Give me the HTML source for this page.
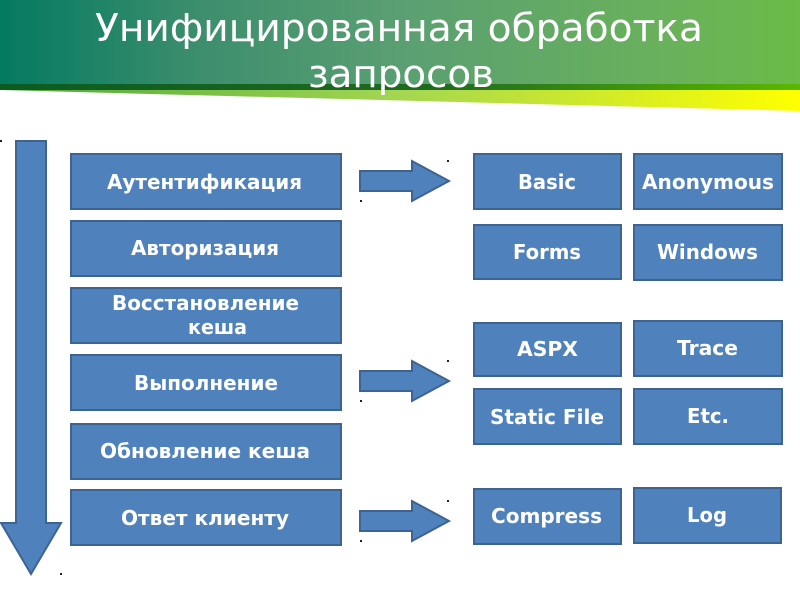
<!DOCTYPE html>
<html><head><meta charset="utf-8"><style>
html,body{margin:0;padding:0;background:#fff;width:800px;height:600px;overflow:hidden}
svg{display:block}
.t{font-family:"DejaVu Sans",sans-serif;font-size:38px;fill:#fff}
.l{font-family:"DejaVu Sans",sans-serif;font-size:20px;font-weight:bold;fill:#fff}
.b{fill:#4f81bd;stroke:#3d6491;stroke-width:2}
</style></head><body>
<svg width="800" height="600" viewBox="0 0 800 600" xmlns="http://www.w3.org/2000/svg">
<defs>
<linearGradient id="g1"><stop offset="0" stop-color="#047a60"/><stop offset="0.25" stop-color="#3d8e6d"/><stop offset="0.5" stop-color="#5a9f72"/><stop offset="0.85" stop-color="#6ab25a"/><stop offset="1" stop-color="#6abb48"/></linearGradient>
<linearGradient id="g2"><stop offset="0" stop-color="#0c5a20"/><stop offset="0.55" stop-color="#1f6b1f"/><stop offset="1" stop-color="#5ab800"/></linearGradient>
<linearGradient id="g3"><stop offset="0" stop-color="#4ea63a"/><stop offset="0.5" stop-color="#a4d651"/><stop offset="1" stop-color="#ffff00"/></linearGradient>
</defs>
<rect width="800" height="85" fill="url(#g1)"/>
<rect y="84" width="800" height="6" fill="url(#g2)"/>
<polygon points="0,90 800,90 800,111" fill="url(#g3)"/>
<text class="t" x="95" y="41" textLength="608" lengthAdjust="spacingAndGlyphs">Унифицированная обработка</text>
<text class="t" x="308" y="87" textLength="186" lengthAdjust="spacingAndGlyphs">запросов</text>

<polygon class="b" points="16,141 46,141 46,523 61,523 31,574 1,523 16,523"/>
<polygon class="b" points="360,171 412,171 412,161 449,181 412,201 412,191 360,191"/>
<polygon class="b" points="360,371 412,371 412,361 449,381 412,401 412,391 360,391"/>
<polygon class="b" points="360,511 412,511 412,501 449,521 412,541 412,531 360,531"/>

<g fill="#222">
<rect x="0" y="140" width="2" height="2"/><rect x="447" y="160" width="2" height="2"/><rect x="360" y="200" width="2" height="2"/>
<rect x="447" y="360" width="2" height="2"/><rect x="360" y="400" width="2" height="2"/>
<rect x="447" y="500" width="2" height="2"/><rect x="360" y="540" width="2" height="2"/><rect x="60" y="573" width="2" height="2"/>
</g>

<rect class="b" x="71" y="154" width="270" height="55"/>
<rect class="b" x="71" y="221" width="270" height="55"/>
<rect class="b" x="71" y="288" width="270" height="55"/>
<rect class="b" x="71" y="355" width="270" height="55"/>
<rect class="b" x="71" y="424" width="270" height="55"/>
<rect class="b" x="71" y="490" width="270" height="55"/>

<rect class="b" x="474" y="154" width="147" height="55"/>
<rect class="b" x="634" y="154" width="148" height="55"/>
<rect class="b" x="474" y="225" width="147" height="54"/>
<rect class="b" x="634" y="225" width="148" height="55"/>
<rect class="b" x="474" y="323" width="147" height="53"/>
<rect class="b" x="634" y="321" width="148" height="55"/>
<rect class="b" x="474" y="389" width="147" height="55"/>
<rect class="b" x="634" y="389" width="148" height="55"/>
<rect class="b" x="474" y="489" width="147" height="55"/>
<rect class="b" x="634" y="488" width="147" height="55"/>

<text class="l" x="107" y="189" textLength="195" lengthAdjust="spacingAndGlyphs">Аутентификация</text>
<text class="l" x="131" y="255" textLength="148" lengthAdjust="spacingAndGlyphs">Авторизация</text>
<text class="l" x="112" y="310" textLength="187" lengthAdjust="spacingAndGlyphs">Восстановление</text>
<text class="l" x="188" y="334" textLength="59" lengthAdjust="spacingAndGlyphs">кеша</text>
<text class="l" x="134" y="390" textLength="144" lengthAdjust="spacingAndGlyphs">Выполнение</text>
<text class="l" x="100" y="458" textLength="210" lengthAdjust="spacingAndGlyphs">Обновление кеша</text>
<text class="l" x="121" y="525" textLength="168" lengthAdjust="spacingAndGlyphs">Ответ клиенту</text>

<text class="l" x="518" y="189" textLength="58" lengthAdjust="spacingAndGlyphs">Basic</text>
<text class="l" x="642" y="189" textLength="132" lengthAdjust="spacingAndGlyphs">Anonymous</text>
<text class="l" x="513" y="259" textLength="68" lengthAdjust="spacingAndGlyphs">Forms</text>
<text class="l" x="657" y="259" textLength="101" lengthAdjust="spacingAndGlyphs">Windows</text>
<text class="l" x="517" y="356" textLength="61" lengthAdjust="spacingAndGlyphs">ASPX</text>
<text class="l" x="677" y="355" textLength="61" lengthAdjust="spacingAndGlyphs">Trace</text>
<text class="l" x="490" y="424" textLength="114" lengthAdjust="spacingAndGlyphs">Static File</text>
<text class="l" x="687" y="423" textLength="42" lengthAdjust="spacingAndGlyphs">Etc.</text>
<text class="l" x="491" y="523" textLength="111" lengthAdjust="spacingAndGlyphs">Compress</text>
<text class="l" x="687" y="522" textLength="40" lengthAdjust="spacingAndGlyphs">Log</text>
</svg>
</body></html>
